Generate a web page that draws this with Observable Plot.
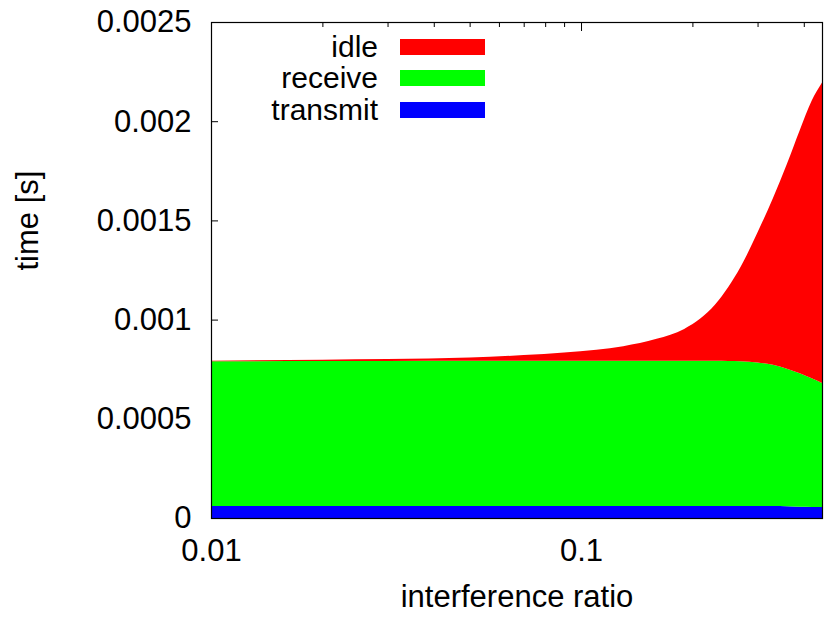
<!DOCTYPE html>
<html>
<head>
<meta charset="utf-8">
<script src="https://cdn.jsdelivr.net/npm/d3@7"></script>
<script src="https://cdn.jsdelivr.net/npm/@observablehq/plot@0.6"></script>
<style>
  html, body { margin: 0; padding: 0; background: #fff; }
  #chart { position: relative; width: 831px; height: 618px; font-family: "Liberation Sans", Arial, Helvetica, sans-serif; }
  #legend { position: absolute; left: 240px; top: 31px; font-size: 30px; color: #000; }
  #legend .row { display: flex; align-items: center; height: 31.5px; overflow: hidden; }
  #legend .lab { width: 138px; text-align: right; padding-right: 22px; line-height: 28px; }
  #legend .sw { width: 85px; height: 16px; }
</style>
</head>
<body>
<div id="chart"></div>
<script>
// interference ratio (x) and time spent per radio state, in seconds
const ratio    = [0.01, 0.02, 0.03, 0.05, 0.07, 0.09, 0.11, 0.13, 0.16, 0.19, 0.21, 0.23, 0.25, 0.27, 0.30, 0.33, 0.36, 0.39, 0.42, 0.448];
const transmit = [0.00006, 0.00006, 0.00006, 0.00006, 0.00006, 0.00006, 0.00006, 0.00006, 0.00006, 0.00006, 0.00006, 0.00006, 0.00006, 0.00006, 0.00006, 0.00006, 0.000059, 0.000057, 0.000056, 0.000055];
const receive  = [0.00073, 0.000731, 0.000731, 0.000732, 0.000732, 0.000732, 0.000732, 0.000732, 0.000732, 0.000732, 0.000732, 0.000732, 0.000731, 0.00073, 0.000724, 0.000712, 0.000693, 0.000672, 0.000648, 0.000626];
const idle     = [0.000003, 0.000007, 0.00001, 0.000017, 0.000029, 0.000042, 0.000056, 0.000074, 0.000111, 0.000161, 0.000213, 0.000283, 0.000373, 0.000476, 0.000656, 0.00084, 0.001032, 0.001225, 0.001399, 0.001514];

const states = ["transmit", "receive", "idle"];
const colors = {transmit: "#0000ff", receive: "#00ff00", idle: "#ff0000"};

const yTicks = [0, 0.0005, 0.001, 0.0015, 0.002, 0.0025];
const xLabelTicks = [0.01, 0.1];
const xMinorTicks = [0.02, 0.03, 0.04, 0.05, 0.06, 0.07, 0.08, 0.09, 0.2, 0.3, 0.4];

// long-format table, stacked bottom-up: transmit, receive, idle
const series = {transmit, receive, idle};
const rows = [];
for (const s of states) {
  ratio.forEach((r, i) => rows.push({state: s, ratio: r, time: series[s][i]}));
}

const font = "31px";
const blank = () => "";

const plot = Plot.plot({
  width: 831,
  height: 618,
  marginLeft: 211,
  marginRight: 9,
  marginTop: 22,
  marginBottom: 100,
  style: {fontFamily: '"Liberation Sans", Arial, Helvetica, sans-serif', fontSize: font, background: "#fff", color: "#000"},
  x: {type: "log", domain: [0.01, 0.448]},
  y: {domain: [0, 0.0025]},
  color: {domain: states, range: states.map(s => colors[s])},
  marks: [
    // tick marks pointing into the plot area (drawn first, so the filled areas cover them)
    Plot.axisY({ticks: yTicks, anchor: "left", tickSize: 7, dx: 7, tickFormat: blank, label: null}),
    Plot.axisX({ticks: xLabelTicks, anchor: "bottom", tickSize: 8, dy: -8, tickFormat: blank, label: null}),
    Plot.axisX({ticks: xMinorTicks, anchor: "bottom", tickSize: 4, dy: -4, tickFormat: blank, label: null}),
    Plot.axisX({ticks: xLabelTicks, anchor: "top", tickSize: 8, dy: 8, tickFormat: blank, label: null}),
    Plot.axisX({ticks: xMinorTicks, anchor: "top", tickSize: 4, dy: 4, tickFormat: blank, label: null}),
    // tick labels
    Plot.axisY({ticks: yTicks, anchor: "left", tickSize: 0, tickPadding: 20, tickFormat: d => String(d), label: null, fontSize: font}),
    Plot.axisX({ticks: xLabelTicks, anchor: "bottom", tickSize: 0, tickPadding: 20, tickFormat: d => String(d), label: null, fontSize: font}),
    // stacked areas
    Plot.areaY(rows, Plot.stackY({x: "ratio", y: "time", z: "state", fill: "state", curve: "monotone-x", order: states})),
    Plot.frame({stroke: "#000", strokeWidth: 1.2}),
    // axis titles
    Plot.text(["time [s]"], {frameAnchor: "left", dx: -183, rotate: -90, fontSize: font}),
    Plot.text(["interference ratio"], {frameAnchor: "bottom", dy: 88, fontSize: font})
  ]
});

const chart = document.getElementById("chart");
chart.appendChild(plot);

// key in the upper left of the plotting area
const legend = document.createElement("div");
legend.id = "legend";
for (const s of ["idle", "receive", "transmit"]) {
  const row = document.createElement("div");
  row.className = "row";
  const lab = document.createElement("span");
  lab.className = "lab";
  lab.textContent = s;
  const sw = document.createElement("span");
  sw.className = "sw";
  sw.style.background = colors[s];
  row.appendChild(lab);
  row.appendChild(sw);
  legend.appendChild(row);
}
chart.appendChild(legend);
</script>
</body>
</html>
